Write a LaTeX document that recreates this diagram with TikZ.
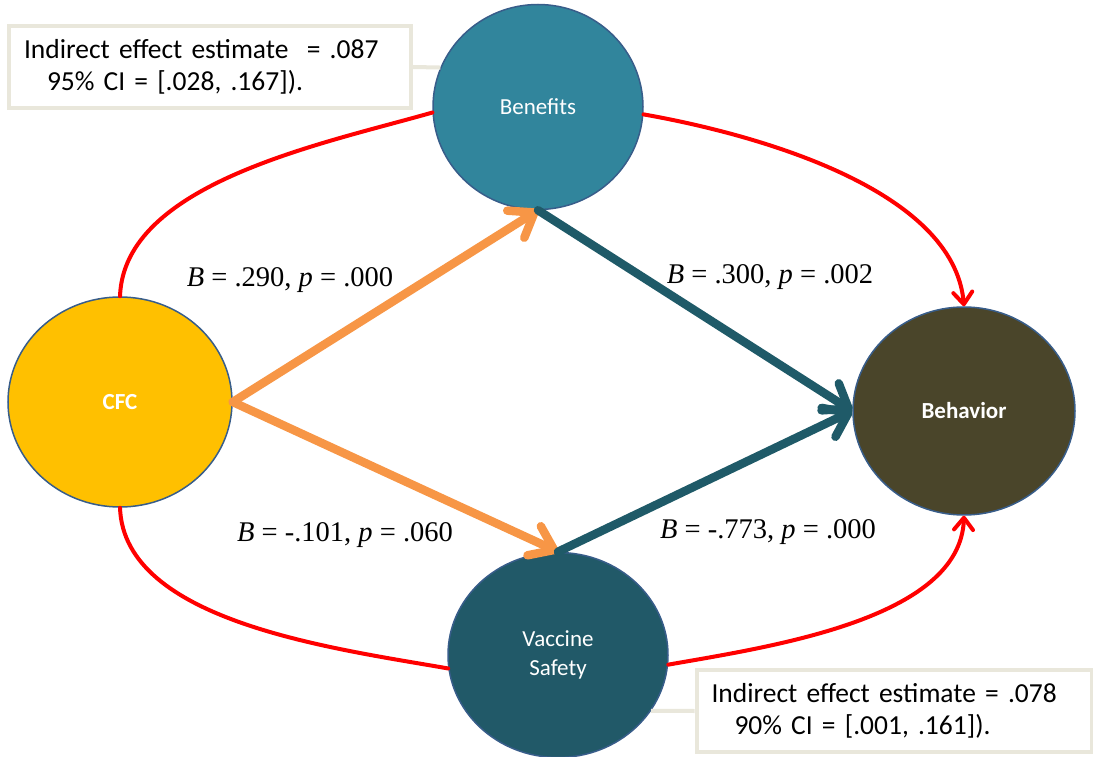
\documentclass[tikz,border=0pt]{standalone}
\usepackage{fontspec}
\setmainfont{Carlito}
\newfontfamily\statfont{Liberation Serif}
\usetikzlibrary{arrows.meta,shapes.geometric}
\definecolor{cfcgold}{HTML}{FFC000}
\definecolor{benteal}{HTML}{31859C}
\definecolor{vacteal}{HTML}{215968}
\definecolor{behbrown}{HTML}{4A452A}
\definecolor{rimblue}{HTML}{385D8A}
\definecolor{pathorange}{HTML}{F79646}
\definecolor{pathteal}{HTML}{1F5A68}
\definecolor{notebeige}{HTML}{E9E7DB}
\newcommand{\bpval}[2]{{\statfont{\itshape B} = #1, {\itshape p} = #2}}

\begin{document}
\begin{tikzpicture}[x=1pt,y=1pt,
  var/.style={ellipse,draw=rimblue,line width=1.5pt,text=white,align=center,inner sep=0pt,
    font=\fontsize{23}{29}\selectfont},
  note/.style={draw=notebeige,line width=4pt,fill=white,align=left,inner xsep=15pt,
    minimum height=82pt,font=\fontsize{27.5}{32}\selectfont},
  apath/.style={line width=8.5pt,line cap=round,-{Straight Barb[round,length=22pt,width=32pt]}},
  tpath/.style={red,line width=4pt,line cap=round,looseness=0.8},
  stat/.style={font=\fontsize{28.5}{32}\selectfont}]
  \useasboundingbox (0,0) rectangle (1093,756);
  \node[var,fill=cfcgold,minimum width=224pt,minimum height=210pt,font=\fontsize{23}{29}\selectfont\bfseries] (C) at (120,354) {CFC};
  \node[var,fill=benteal,minimum width=210pt,minimum height=205pt] (B) at (538,649) {Benefits};
  \node[var,fill=vacteal,minimum width=220pt,minimum height=205pt] (V) at (558,101) {Vaccine\\Safety};
  \node[var,fill=behbrown,minimum width=222pt,minimum height=208pt,font=\fontsize{23}{29}\selectfont\bfseries] (H) at (964,345) {Behavior};
  \draw[tpath] (C.north) to[out=88,in=196] (B.183);
  \draw[tpath,-{Straight Barb[round,length=12pt,width=19pt]}] (B.-4) to[out=-10,in=95] (H.north);
  \draw[tpath] (C.south) to[out=-88,in=170] (V.187);
  \draw[tpath,-{Straight Barb[round,length=12pt,width=19pt]}] (V.-5) to[out=10,in=-92] (H.south);
  \draw[apath,pathorange] (C.east) -- (B.south);
  \draw[apath,pathorange] (C.east) -- (V.north);
  \draw[apath,pathteal] (B.south) -- (H.west);
  \draw[apath,pathteal] (V.north) -- (H.west);
  \node[note,text width=372pt] (N1) at (210,689) {Indirect effect estimate \ = .087\\\hspace*{23pt}95\% CI = [.028, .167]).};
  \node[note,text width=365pt] (N2) at (894,45) {Indirect effect estimate = .078\\\hspace*{23pt}90\% CI = [.001, .161]).};
  \draw[notebeige,line width=4pt] (N1.east) -- (B.158);
  \draw[notebeige,line width=4pt] (N2.west) -- (V.-31);
  \node[stat] (S1) at (290,476) {\bpval{.290}{.000}};
  \node[stat] (S2) at (770,479) {\bpval{.300}{.002}};
  \node[stat] (S3) at (345,221) {\bpval{-.101}{.060}};
  \node[stat] (S4) at (768,224) {\bpval{-.773}{.000}};
\end{tikzpicture}
\end{document}
